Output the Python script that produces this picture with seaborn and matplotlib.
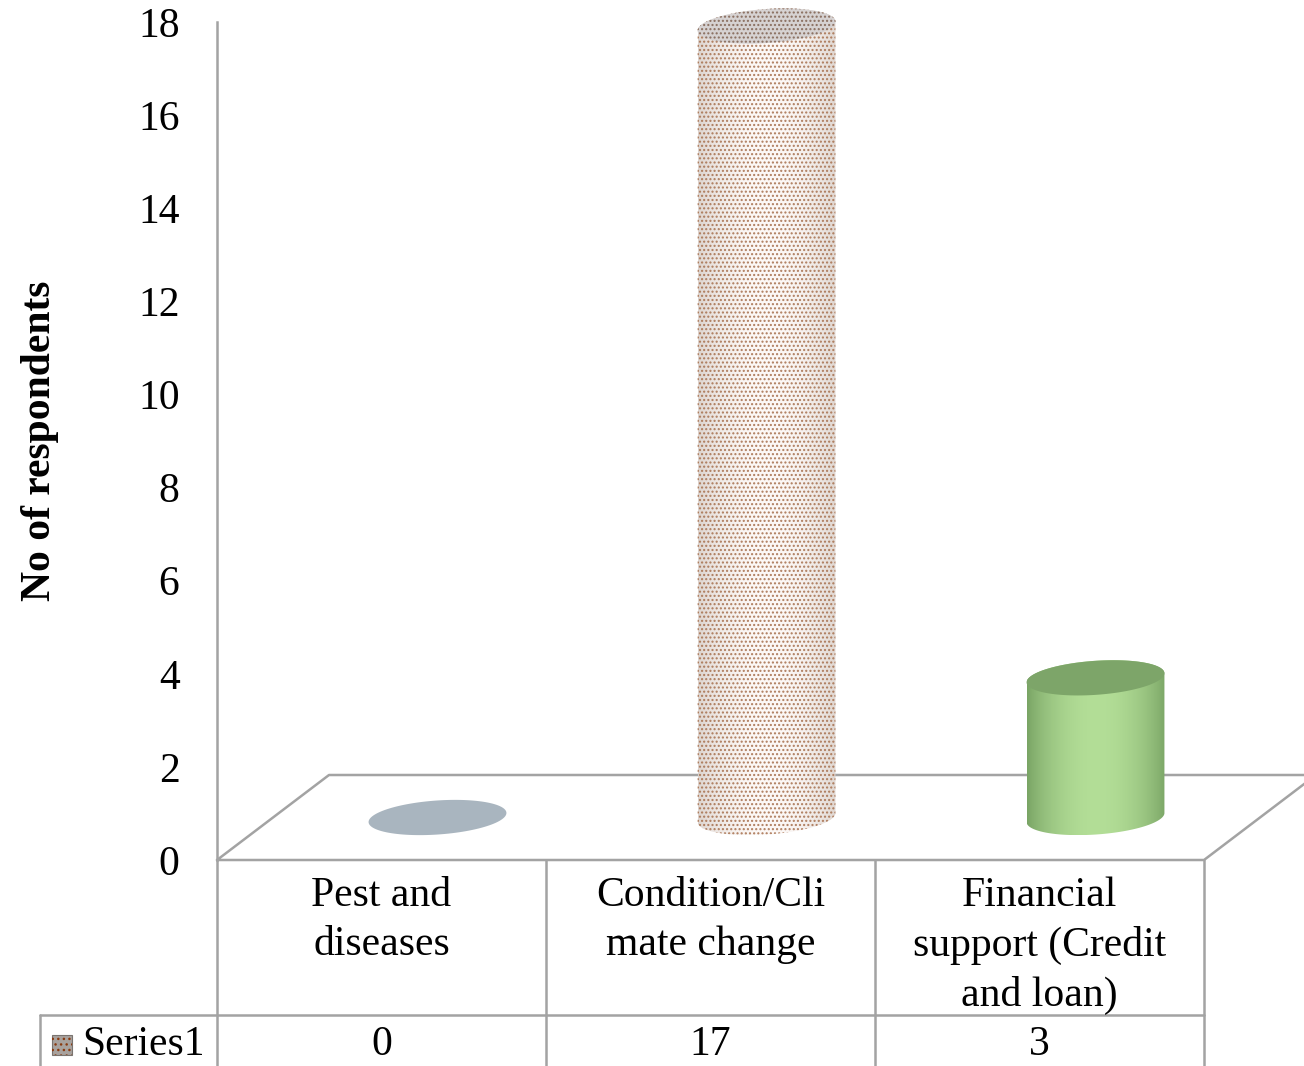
import numpy as np
import pandas as pd
import matplotlib
matplotlib.use("Agg")
import matplotlib.pyplot as plt
import seaborn as sns
from matplotlib.patches import Polygon, Rectangle
from matplotlib.lines import Line2D
from matplotlib.transforms import blended_transform_factory

# ---------------- data ----------------
categories = ["Pest and\ndiseases", "Condition/Cli\nmate change", "Financial\nsupport (Credit\nand loan)"]
values = [0, 17, 3]
series_name = "Series1"
y_ticks = [0, 2, 4, 6, 8, 10, 12, 14, 16, 18]
y_label = "No of respondents"

# ---------------- styles ----------------
body_dark = ["#9aa6b0", "#d8cec8", "#6f9a5c"]
body_light = ["#b8c4ce", "#fdf9f7", "#b3de97"]
top_colors = ["#a9b5bf", "#d6d2d2", "#7da569"]
dotted = [False, True, False]
dot_color = "#a87250"
line_col = "#a3a3a3"
FS = 30

sns.set_theme(style="white")
plt.rcParams["font.family"] = ["Liberation Serif", "DejaVu Serif"]
plt.rcParams["hatch.linewidth"] = 1.0
plt.rcParams["text.color"] = "black"
plt.rcParams["axes.labelcolor"] = "black"

W, H = 1304, 1066
fig = plt.figure(figsize=(W / 100, H / 100), dpi=100)
fig.patch.set_facecolor("white")

L, R, B, T = 217, 1204, 860, 22
# main (front) axes: value axis and floor
ax = fig.add_axes([L / W, 1 - B / H, (R - L) / W, (B - T) / H])
ax.set_xlim(-0.5, 2.5)
ax.set_ylim(0, 18)
ax.patch.set_alpha(0)
for s in ["top", "right", "bottom"]:
    ax.spines[s].set_visible(False)
ax.spines["left"].set_color(line_col)
ax.spines["left"].set_linewidth(1.8)
ax.set_yticks(y_ticks)
ax.set_yticklabels([str(t) for t in y_ticks])
ax.set_xticks([])
ax.tick_params(axis="y", length=0, pad=27, labelsize=FS, colors="black")
ax.text(-(L - 40) / (R - L), 0.5, y_label, transform=ax.transAxes, rotation=90,
        ha="center", va="center", fontsize=FS, fontweight="bold", color="black")

# floor depth (pixels)
depth_x, depth_y = 112, 85
sxm = (R - L) / 3.0
sym = (B - T) / 18.0
ddx, ddy = depth_x / sxm, depth_y / sym
floor = np.array([[-0.5, 0], [2.5, 0], [2.5 + ddx, ddy], [-0.5 + ddx, ddy], [-0.5, 0]])
ax.plot(floor[:, 0], floor[:, 1], color=line_col, lw=1.8, clip_on=False, zorder=1)

# bars axes: shifted to mid-depth of the floor (extended 1 unit below base for ellipse bottoms)
ox, oy = depth_x / 2, depth_y / 2
ext = 1.0
axb = fig.add_axes([(L + ox) / W, 1 - (B - oy + ext * sym) / H, (R - L) / W, (B - T + ext * sym) / H])
df = pd.DataFrame({"category": categories, "value": values})
sns.barplot(data=df, x="category", y="value", ax=axb, width=0.42, color="#cccccc")
axb.set_xlim(-0.5, 2.5)
axb.set_ylim(-ext, 18)
axb.set_axis_off()
axb.patch.set_alpha(0)

p0 = axb.transData.transform((0, 0))
sx = axb.transData.transform((1, 0))[0] - p0[0]
sy = axb.transData.transform((0, 1))[1] - p0[1]

ang = np.deg2rad(4)


def ell(xc, yc, a, b, t0=0, t1=2 * np.pi, n=120):
    t = np.linspace(t0, t1, n)
    ex, ey = a * np.cos(t), b * np.sin(t)
    rx = ex * np.cos(ang) - ey * np.sin(ang)
    ry = ex * np.sin(ang) + ey * np.cos(ang)
    return np.column_stack([xc + rx / sx, yc + ry / sy])


bars = list(axb.patches)
for i, p in enumerate(bars):
    p.set_visible(False)
    xc = p.get_x() + p.get_width() / 2
    h = p.get_height()
    a = p.get_width() * sx / 2
    b = 17
    if h > 0:
        lower = ell(xc, 0, a, b, np.pi, 2 * np.pi)
        upper = ell(xc, h, a, b, 0, np.pi)
        sil = np.vstack([lower, upper])
        poly = Polygon(sil, closed=True, facecolor="none", edgecolor="none", zorder=2)
        axb.add_patch(poly)
        t = np.linspace(0, 1, 200)
        prof = np.sin(np.pi * np.clip(t * 0.95 + 0.02, 0, 1)) ** 0.7
        c0 = np.array(matplotlib.colors.to_rgb(body_dark[i]))
        c1 = np.array(matplotlib.colors.to_rgb(body_light[i]))
        grad = c0[None, :] + (c1 - c0)[None, :] * prof[:, None]
        xmin, xmax = sil[:, 0].min(), sil[:, 0].max()
        ymin, ymax = sil[:, 1].min(), sil[:, 1].max()
        im = axb.imshow(grad[None, :, :], extent=[xmin, xmax, ymin, ymax], aspect="auto",
                        origin="lower", zorder=2, interpolation="bilinear")
        im.set_clip_path(poly)
        if dotted[i]:
            axb.add_patch(Polygon(sil, closed=True, facecolor="none", edgecolor=dot_color,
                                  lw=0, hatch="....", zorder=3, alpha=0.9))
    top = ell(xc, h, a, b)
    axb.add_patch(Polygon(top, closed=True, facecolor=top_colors[i], edgecolor="none", zorder=4))
    if dotted[i]:
        axb.add_patch(Polygon(top, closed=True, facecolor="none", edgecolor="#7a5a48",
                              lw=0, hatch="....", zorder=5, alpha=0.8))
axb.set_xlim(-0.5, 2.5)
axb.set_ylim(-ext, 18)

# ---------------- data table ----------------
bt = blended_transform_factory(ax.transData, ax.transAxes)
ybot = -(H - B) / (B - T)
yrow = -(1015 - B) / (B - T)
for xb in [-0.5, 0.5, 1.5, 2.5]:
    ax.add_line(Line2D([xb, xb], [0, ybot], transform=bt, color=line_col, lw=1.8, clip_on=False))
xleft = -0.5 - (L - 40) / sxm
ax.add_line(Line2D([xleft, 2.5], [yrow, yrow], transform=bt, color=line_col, lw=1.8, clip_on=False))
ax.add_line(Line2D([xleft, xleft], [yrow, ybot], transform=bt, color=line_col, lw=1.8, clip_on=False))

ytxt = -(877 - B) / (B - T)
yval = -(1045 - B) / (B - T)
for i, (c, v) in enumerate(zip(categories, values)):
    ax.text(i, ytxt, c, transform=bt, ha="center", va="top", fontsize=FS, linespacing=1.35)
    ax.text(i, yval, str(v), transform=bt, ha="center", va="center", fontsize=FS)
ax.text(xleft + 42 / sxm, yval, series_name, transform=bt, ha="left", va="center", fontsize=FS)

# legend key
kx, ky = xleft + 12 / sxm, yval - 10 / (B - T)
ax.add_patch(Rectangle((kx, ky), 20 / sxm, 20 / (B - T), transform=bt,
                       facecolor="#a8a29e", edgecolor="#7a7470", lw=0.8, clip_on=False))
ax.add_patch(Rectangle((kx, ky), 20 / sxm, 20 / (B - T), transform=bt,
                       facecolor="none", edgecolor="#8a3a10", lw=0, hatch="...", clip_on=False))

fig.savefig("out.png", dpi=100, facecolor="white")
